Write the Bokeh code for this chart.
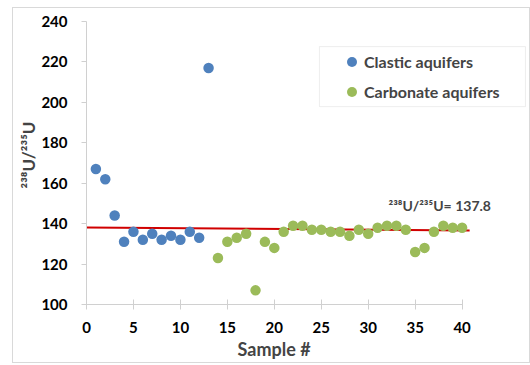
import math
from bokeh.plotting import figure
from bokeh.models import Range1d, Label, Legend, LegendItem, BoxAnnotation, FixedTicker, Title
from bokeh.embed import file_html
from bokeh.resources import INLINE

# ---- data ----
clastic_x = [1, 2, 3, 4, 5, 6, 7, 8, 9, 10, 11, 12, 13]
clastic_y = [167, 162, 144, 131, 136, 132, 135, 132, 134, 132, 136, 133, 217]

carbonate_x = [14, 15, 16, 17, 18, 19, 20, 21, 22, 23, 24, 25, 26, 27,
               28, 29, 30, 31, 32, 33, 34, 35, 36, 37, 38, 39, 40]
carbonate_y = [123, 131, 133, 135, 107, 131, 128, 136, 139, 139, 137, 137, 136, 136,
               134, 137, 135, 138, 139, 139, 137, 126, 128, 136, 139, 138, 138]

trend_x = [0, 40.8]
trend_y = [138.1, 136.6]

x_ticks = [0, 5, 10, 15, 20, 25, 30, 35, 40]
y_ticks = [100, 120, 140, 160, 180, 200, 220, 240]

BLUE = "#4F81BD"
GREEN = "#9BBB59"
RED = "#D00000"
AXIS = "#D0D0D0"
FONT = "Lato"

p = figure(width=518, height=356, output_backend="svg", toolbar_location=None,
           x_range=Range1d(0, 47.39), y_range=Range1d(100, 240),
           min_border_left=73, min_border_right=0, min_border_top=13, min_border_bottom=60)
p.styles = {"margin-left": "12px", "margin-top": "7px",
            "border": "1px solid #D9D9D9", "box-sizing": "border-box"}
p.outline_line_color = None
p.xgrid.visible = False
p.ygrid.visible = False

for ax in (p.xaxis[0], p.yaxis[0]):
    ax.axis_line_color = AXIS
    ax.major_tick_line_color = AXIS
    ax.minor_tick_line_color = None
    ax.major_label_text_font = FONT
    ax.major_label_text_font_style = "bold"
    ax.major_label_text_font_size = "15px"
    ax.major_label_text_color = "#000000"

p.xaxis.ticker = FixedTicker(ticks=x_ticks)
p.yaxis.ticker = FixedTicker(ticks=y_ticks)
p.xaxis.bounds = (0, 40)
p.xaxis.major_tick_in = 5
p.xaxis.major_tick_out = 5
p.yaxis.major_tick_in = 0
p.yaxis.major_tick_out = 5
p.yaxis.major_label_standoff = 14
p.xaxis.major_label_standoff = 12

# x axis title, centred under the 0-40 axis
p.add_layout(Title(text="Sample #", align="left", offset=151,
                   text_font=FONT, text_font_style="bold", text_font_size="18px",
                   standoff=0), "below")

# y axis title
p.add_layout(Title(text="\u00b2\u00b3\u2078U/\u00b2\u00b3\u2075U", align="left", offset=116,
                   text_font=FONT, text_font_style="bold", text_font_size="17px",
                   standoff=0), "left")

# trend line
p.line(trend_x, trend_y, line_color=RED, line_width=2)

r1 = p.scatter(clastic_x, clastic_y, size=10.5, fill_color=BLUE, line_color=None)
r2 = p.scatter(carbonate_x, carbonate_y, size=10.5, fill_color=GREEN, line_color=None)

# trend annotation
p.add_layout(Label(x=32.16, y=148.9, text="\u00b2\u00b3\u2078U/\u00b2\u00b3\u2075U= 137.8",
                   text_font=FONT, text_font_style="bold", text_font_size="14px",
                   text_align="left", text_baseline="middle"))

# legend frame
p.add_layout(BoxAnnotation(left=24.81, right=46.75, top=227.6, bottom=197.9,
                           fill_alpha=0, line_color="#C8C8C8", line_width=1))

legend = Legend(items=[LegendItem(label="Clastic aquifers", renderers=[r1]),
                       LegendItem(label="Carbonate aquifers", renderers=[r2])],
                location=(253, 200), padding=0, margin=0, spacing=5,
                glyph_width=25, glyph_height=25, label_height=25, label_standoff=-7,
                border_line_color=None, background_fill_alpha=0,
                label_text_font=FONT, label_text_font_style="bold",
                label_text_font_size="16px")
p.add_layout(legend)

open("out.html", "w").write(file_html(p, INLINE))
